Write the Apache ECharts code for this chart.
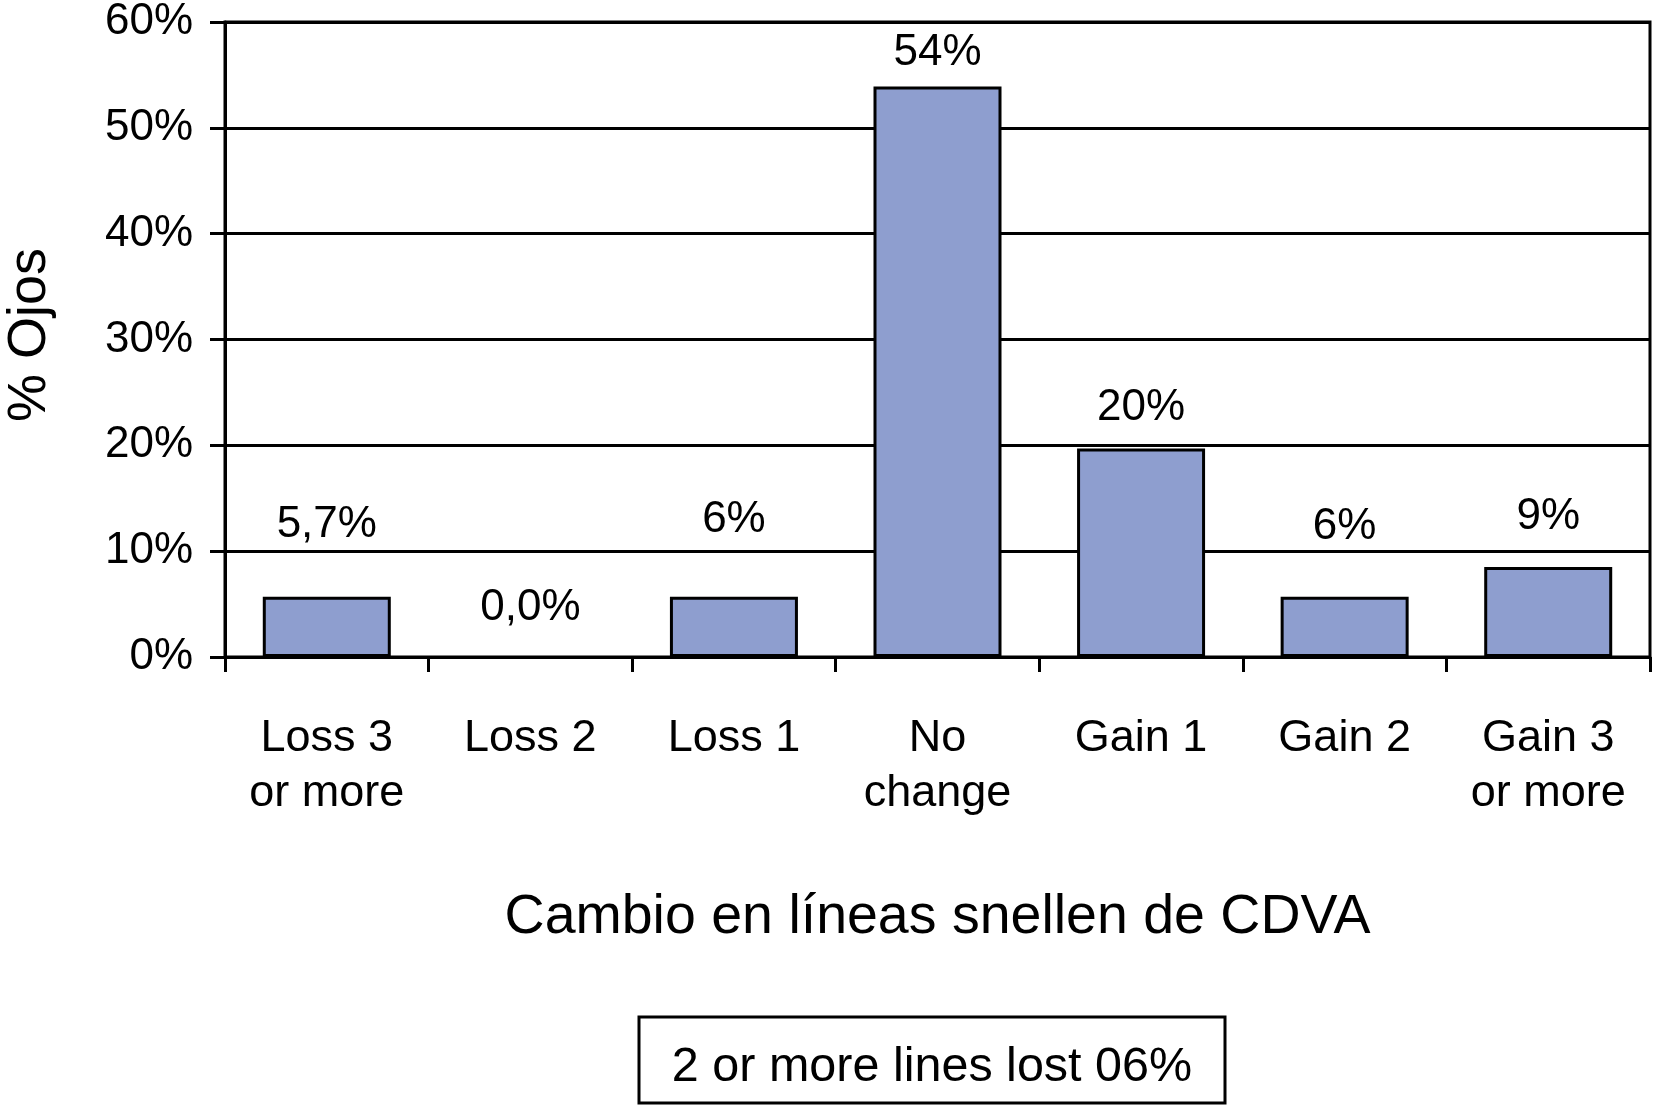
<!DOCTYPE html>
<html>
<head>
<meta charset="utf-8">
<script src="https://cdn.jsdelivr.net/npm/echarts@6/dist/echarts.min.js"></script>
<style>
html,body{margin:0;padding:0;background:#fff;}
#chart{width:1653px;height:1106px;}
</style>
</head>
<body>
<div id="chart"></div>
<script>
const categories = ['Loss 3\nor more', 'Loss 2', 'Loss 1', 'No\nchange', 'Gain 1', 'Gain 2', 'Gain 3\nor more'];
const values = [5.7, 0, 5.7, 53.9, 19.7, 5.7, 8.5];
const valueLabels = ['5,7%', '0,0%', '6%', '54%', '20%', '6%', '9%'];
const yTicks = [0, 10, 20, 30, 40, 50, 60];
const xTitle = 'Cambio en líneas snellen de CDVA';
const yTitle = '% Ojos';
const noteText = '2 or more lines lost 06%';

const FONT = '"Liberation Sans", Arial, Helvetica, sans-serif';
const labelDistances = [50, 27, 55, 12, 19, 48, 28];

const chart = echarts.init(document.getElementById('chart'), null, {renderer: 'canvas'});

const gridLeft = 225, gridRight = 3, gridTop = 16, gridBottom = 449;
const plotCenterX = gridLeft + (1653 - gridLeft - gridRight) / 2;

chart.setOption({
  animation: false,
  backgroundColor: '#fff',
  grid: {
    left: gridLeft, right: gridRight, top: gridTop, bottom: gridBottom,
    show: true, borderColor: '#000', borderWidth: 3, containLabel: false
  },
  xAxis: {
    type: 'category',
    data: categories,
    axisLine: {show: true, lineStyle: {color: '#000', width: 3}},
    axisTick: {show: true, length: 15, lineStyle: {color: '#000', width: 3}},
    axisLabel: {
      color: '#000', fontFamily: FONT, fontSize: 45, lineHeight: 55,
      margin: 54, interval: 0
    },
    splitLine: {show: false}
  },
  yAxis: {
    type: 'value',
    min: yTicks[0], max: yTicks[yTicks.length - 1], interval: 10,
    axisLine: {show: true, lineStyle: {color: '#000', width: 3}},
    axisTick: {show: true, length: 15, lineStyle: {color: '#000', width: 3}},
    axisLabel: {
      color: '#000', fontFamily: FONT, fontSize: 44, margin: 32,
      padding: [8, 0, 0, 0],
      formatter: v => v + '%'
    },
    splitLine: {show: true, lineStyle: {color: '#000', width: 3}}
  },
  series: [{
    type: 'bar',
    data: values.map((v, i) => ({
      value: v,
      label: {distance: labelDistances[i]},
      itemStyle: v === 0 ? {borderWidth: 0} : undefined
    })),
    barWidth: 128,
    itemStyle: {color: '#8E9ECF', borderColor: '#000', borderWidth: 3},
    label: {
      show: true, position: 'top', color: '#000',
      fontFamily: FONT, fontSize: 44,
      formatter: p => valueLabels[p.dataIndex]
    },
    z: 3
  }],
  graphic: [
    {
      type: 'text', z: 10,
      x: plotCenterX, y: 918,
      style: {
        text: xTitle, fill: '#000', font: '55.5px ' + FONT,
        textAlign: 'center', textVerticalAlign: 'middle'
      }
    },
    {
      type: 'text', z: 10, rotation: Math.PI / 2,
      x: 30, y: 335,
      style: {
        text: yTitle, fill: '#000', font: '54px ' + FONT,
        textAlign: 'center', textVerticalAlign: 'middle'
      }
    },
    {
      type: 'rect', z: 10,
      shape: {x: 639, y: 1017, width: 586, height: 86},
      style: {fill: '#fff', stroke: '#000', lineWidth: 3}
    },
    {
      type: 'text', z: 11,
      x: 932, y: 1068,
      style: {
        text: noteText, fill: '#000', font: '48.5px ' + FONT,
        textAlign: 'center', textVerticalAlign: 'middle'
      }
    }
  ]
});
</script>
</body>
</html>
